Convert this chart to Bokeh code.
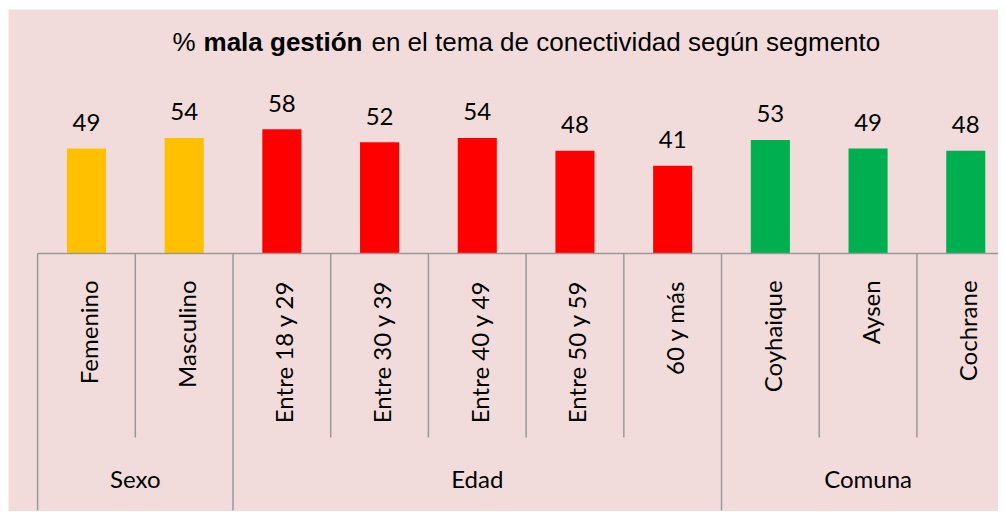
from bokeh.plotting import figure
from bokeh.models import Range1d, ColumnDataSource
from bokeh.embed import file_html
from bokeh.resources import INLINE
from bokeh.core.properties import value
import math

# ---- data ----
categories = ["Femenino", "Masculino", "Entre 18 y 29", "Entre 30 y 39", "Entre 40 y 49",
              "Entre 50 y 59", "60 y más", "Coyhaique", "Aysen", "Cochrane"]
values = [49, 54, 58, 52, 54, 48, 41, 53, 49, 48]
groups = ["Sexo", "Edad", "Comuna"]
group_sizes = [2, 5, 3]
group_colors = ["#FFC000", "#FF0000", "#00B050"]
title_parts = ["%", "mala gestión", "en el tema de conectividad según segmento"]

BG = "#F2DCDB"
GRID = "#999999"

W, H = 998, 511
p = figure(width=W, height=H, output_backend="svg", toolbar_location=None,
           x_range=Range1d(-0.798, 9.335), y_range=Range1d(-120.6, 114.0),
           min_border=0, min_border_left=8, min_border_right=0,
           min_border_top=9, min_border_bottom=0)
p.background_fill_color = BG
p.border_fill_color = "#FFFFFF"
p.outline_line_color = None
p.xaxis.visible = False
p.yaxis.visible = False
p.xgrid.visible = False
p.ygrid.visible = False

# colours per bar from groups
colors = []
for n, c in zip(group_sizes, group_colors):
    colors += [c] * n

xs = list(range(len(categories)))
src = ColumnDataSource(dict(x=xs, top=values, color=colors, cat=categories,
                            lab=[str(v) for v in values],
                            laby=[v + 12.2 for v in values]))
p.vbar(x="x", top="top", bottom=0, width=0.4, fill_color="color", line_color=None, source=src)

# value labels
p.text(x="x", y="laby", text="lab", source=src, text_align="center", text_baseline="alphabetic",
       text_font=value("Lato"), text_font_size="24px", text_color="#000000")

# axis line
p.segment(x0=[-0.5], y0=[0], x1=[len(categories) - 0.5], y1=[0], line_color=GRID, line_width=1.5)

# separators
bounds, ends = [], []
long_b = {0}
acc = 0
for n in group_sizes:
    acc += n
    long_b.add(acc)
for b in range(len(categories) + 1):
    bounds.append(b - 0.5)
    ends.append(-120.1 if b in long_b else -86.0)
p.segment(x0=bounds, y0=[0] * len(bounds), x1=bounds, y1=ends, line_color=GRID, line_width=1.5)

# category labels (rotated)
p.text(x=[x + 0.02 for x in xs], y=[-12.6] * len(xs), text=categories, angle=math.pi / 2,
       text_align="right", text_baseline="middle",
       text_font=value("Lato"), text_font_size="24px", text_color="#000000")

# group labels
gx = []
acc = 0
for n in group_sizes:
    gx.append(acc + (n - 1) / 2)
    acc += n
p.text(x=gx, y=[-105.1] * len(gx), text=groups, text_align="center", text_baseline="alphabetic",
       text_font=value("Lato"), text_font_size="24px", text_color="#000000")

# title (three runs, middle one bold)
title_x = [0.880, 1.198, 2.917]
title_style = ["normal", "bold", "normal"]
for t, x, s in zip(title_parts, title_x, title_style):
    p.text(x=[x], y=[98.9], text=[t], text_align="left", text_baseline="alphabetic",
           text_font=value("Liberation Sans"), text_font_size="26px", text_font_style=s,
           text_color="#000000")

open("out.html", "w").write(file_html(p, INLINE))
